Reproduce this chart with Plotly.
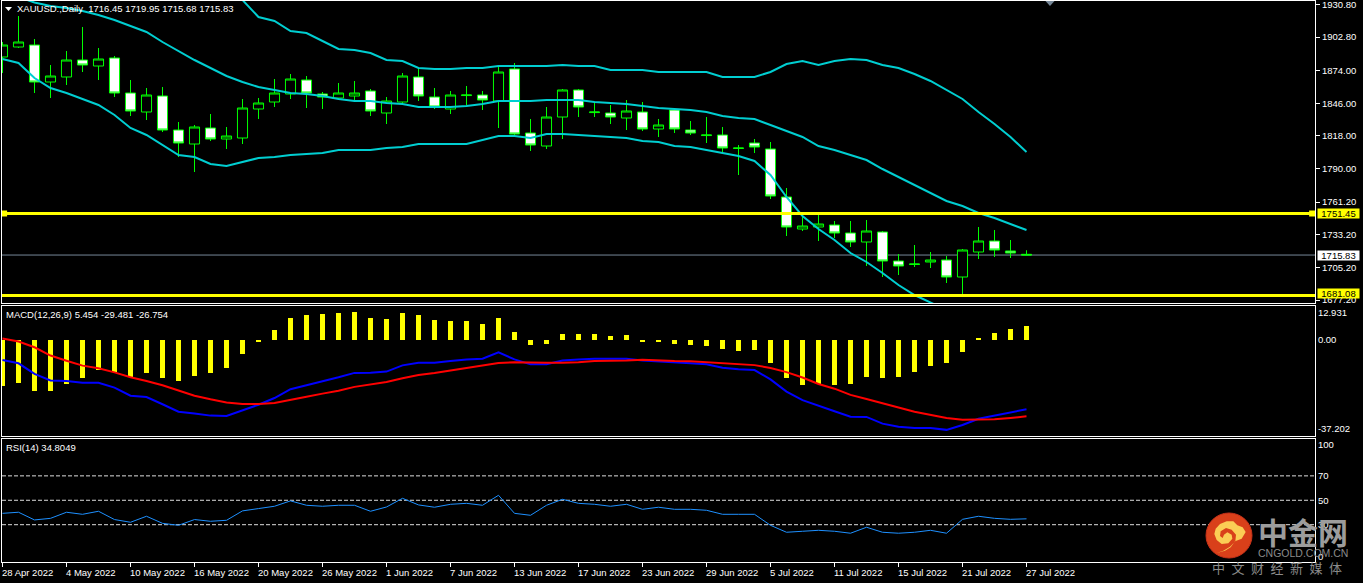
import plotly.graph_objects as go

FIG_W, FIG_H = 1363, 583
FONT = "Liberation Sans"
FS = 9.5

# ---------- data ----------
dates = ["28 Apr 2022","29 Apr 2022","2 May 2022","3 May 2022","4 May 2022","5 May 2022","6 May 2022","9 May 2022",
         "10 May 2022","11 May 2022","12 May 2022","13 May 2022","16 May 2022","17 May 2022","18 May 2022","19 May 2022",
         "20 May 2022","23 May 2022","24 May 2022","25 May 2022","26 May 2022","27 May 2022","30 May 2022","31 May 2022",
         "1 Jun 2022","2 Jun 2022","3 Jun 2022","6 Jun 2022","7 Jun 2022","8 Jun 2022","9 Jun 2022","10 Jun 2022",
         "13 Jun 2022","14 Jun 2022","15 Jun 2022","16 Jun 2022","17 Jun 2022","20 Jun 2022","21 Jun 2022","22 Jun 2022",
         "23 Jun 2022","24 Jun 2022","27 Jun 2022","28 Jun 2022","29 Jun 2022","30 Jun 2022","1 Jul 2022","4 Jul 2022",
         "5 Jul 2022","6 Jul 2022","7 Jul 2022","8 Jul 2022","11 Jul 2022","12 Jul 2022","13 Jul 2022","14 Jul 2022",
         "15 Jul 2022","18 Jul 2022","19 Jul 2022","20 Jul 2022","21 Jul 2022","22 Jul 2022","25 Jul 2022","26 Jul 2022",
         "27 Jul 2022"]

opens = [1885.67,1894.24,1895.96,1864.23,1868.52,1883.09,1877.95,1884.81,1854.79,1838.50,1852.22,1823.06,1811.05,1824.78,1815.34,1816.20,
         1841.07,1847.07,1853.94,1865.94,1853.94,1850.51,1852.22,1856.51,1837.64,1847.07,1868.52,1851.36,1841.07,1852.60,1853.08,1847.93,
         1875.38,1820.49,1809.34,1834.21,1857.37,1838.00,1837.64,1833.35,1838.50,1823.92,1840.21,1823.06,1818.30,1818.77,1807.20,1811.91,
         1806.77,1765.60,1738.16,1739.88,1741.59,1734.73,1727.01,1735.59,1710.72,1707.70,1709.86,1711.57,1696.99,1718.44,1727.87,1719.30,1716.45]
highs = [1898.53,1920.83,1901.10,1878.81,1890.81,1911.39,1893.38,1886.52,1865.94,1859.08,1859.94,1829.92,1827.35,1836.78,1825.63,1849.65,
         1850.51,1866.80,1871.09,1869.37,1855.65,1863.37,1865.08,1858.22,1851.36,1871.95,1876.23,1859.08,1856.51,1860.80,1856.51,1877.09,
         1880.52,1832.50,1842.79,1858.22,1858.22,1847.07,1844.50,1848.79,1847.07,1832.50,1841.93,1830.78,1834.21,1825.63,1810.20,1815.34,
         1812.77,1773.32,1750.17,1750.17,1745.02,1745.02,1745.88,1736.45,1716.71,1724.44,1718.44,1714.97,1721.01,1739.88,1737.31,1728.73,1719.95]
lows = [1871.95,1893.38,1854.79,1850.51,1861.65,1872.80,1865.94,1851.36,1835.07,1831.64,1821.35,1799.90,1787.04,1813.63,1806.77,1811.05,
        1832.50,1842.79,1849.65,1841.93,1841.07,1848.79,1848.79,1835.07,1828.21,1845.36,1847.93,1841.07,1836.78,1844.50,1840.21,1824.78,
        1818.77,1805.05,1806.77,1815.34,1834.21,1834.21,1828.21,1823.06,1822.20,1817.06,1820.49,1818.77,1811.91,1804.19,1784.46,1803.34,
        1763.89,1732.16,1736.45,1727.87,1730.44,1722.72,1706.43,1696.99,1698.71,1705.57,1704.71,1691.85,1681.56,1712.43,1714.15,1713.29,1715.68]
closes = [1895.96,1898.53,1864.23,1869.37,1883.09,1878.81,1883.95,1854.79,1839.36,1853.08,1823.06,1811.91,1825.63,1815.34,1817.92,1841.93,
          1846.22,1854.79,1866.80,1854.79,1851.36,1854.79,1854.79,1839.36,1847.93,1869.37,1852.22,1842.79,1853.08,1853.08,1848.79,1872.80,
          1819.63,1810.20,1834.21,1857.37,1842.79,1838.50,1834.21,1839.36,1823.92,1827.35,1823.92,1820.49,1818.77,1807.62,1807.62,1808.48,
          1766.46,1739.88,1740.73,1742.45,1734.73,1727.01,1736.45,1710.72,1706.43,1708.14,1711.57,1696.99,1720.15,1727.87,1720.15,1717.58,1715.83]

bb_upper = [None]*14 + [1947.41,1934.55,1919.97,1916.56,1907.96,1906.25,1899.39,1892.53,1891.67,1889.10,1883.09,1882.24,1876.23,1875.38,1875.38,1876.23,
            1876.23,1877.95,1877.95,1877.95,1877.95,1878.81,1877.95,1877.95,1874.52,1874.52,1874.52,1872.80,1872.80,1872.80,1872.80,1868.52,
            1868.52,1868.52,1872.80,1879.66,1882.24,1878.81,1882.24,1883.95,1883.09,1878.81,1876.23,1871.09,1865.08,1857.37,1849.65,1838.50,1828.21,1817.06,1804.19]
bb_mid = [None,1937.12,1932.41,1929.40,1927.69,1925.12,1921.69,1917.40,1912.25,1907.11,1898.53,1890.81,1883.09,1876.23,1869.37,1864.23,
          1859.94,1857.37,1854.79,1853.94,1852.22,1849.65,1847.93,1847.93,1846.22,1845.36,1842.79,1842.79,1842.79,1843.64,1845.36,1847.93,
          1847.93,1847.93,1848.79,1848.79,1848.79,1847.07,1846.22,1845.36,1843.64,1841.93,1841.07,1840.21,1838.50,1835.07,1833.35,1832.50,
          1827.35,1822.20,1817.06,1809.34,1805.91,1801.62,1797.33,1789.61,1782.75,1775.89,1769.03,1762.17,1757.88,1751.88,1747.59,1742.45,1737.31]
bb_lower = [1883.95,1880.52,1867.66,1859.08,1854.79,1849.65,1844.50,1835.93,1824.78,1818.77,1810.20,1801.62,1799.90,1793.90,1792.19,1795.62,
            1799.05,1799.90,1801.62,1802.48,1803.34,1805.91,1805.91,1805.91,1807.62,1808.48,1811.05,1811.05,1811.05,1811.05,1814.49,1817.92,
            1817.92,1816.20,1819.63,1819.63,1818.77,1817.92,1817.06,1816.20,1813.63,1812.77,1809.34,1808.48,1805.91,1803.34,1800.76,1796.47,
            1784.46,1765.60,1749.31,1738.16,1728.73,1717.58,1709.86,1700.43,1690.14,1681.56,1675.55,1668.69] + [None]*5

macd_hist = [-17.8,-16.6,-19.7,-19.7,-17.0,-14.7,-11.6,-12.4,-14.3,-12.7,-14.7,-15.8,-13.9,-12.7,-10.8,-5.4,
             -0.8,3.9,8.5,9.7,10.0,10.4,10.8,8.5,8.1,10.4,9.7,7.7,7.3,7.3,6.2,8.5,
             3.1,-1.9,-1.5,2.3,2.3,2.3,1.5,1.9,-0.4,-0.8,-1.5,-1.9,-2.3,-3.5,-4.2,-3.9,
             -8.9,-14.7,-17.4,-17.0,-17.4,-17.0,-14.3,-14.7,-14.3,-12.4,-10.0,-8.9,-4.6,0.4,2.7,4.2,5.454]
macd_main = [-7.7,-9.0,-13.1,-15.6,-15.8,-16.5,-16.5,-18.4,-21.5,-22.0,-24.8,-27.7,-28.4,-29.2,-29.3,-27.3,
             -25.0,-22.4,-19.0,-17.5,-16.0,-14.4,-12.7,-12.6,-12.2,-9.8,-8.8,-8.8,-8.1,-7.5,-7.2,-4.8,
             -7.5,-9.4,-9.4,-7.9,-7.5,-7.2,-7.2,-7.2,-7.9,-8.2,-8.6,-9.0,-9.4,-10.7,-11.3,-11.6,
             -15.2,-19.9,-23.2,-25.5,-27.5,-29.6,-29.7,-32.3,-33.5,-34.0,-34.0,-34.7,-32.8,-30.4,-29.1,-27.9,-26.754]
macd_signal = [0.6,-0.6,-2.8,-6.0,-8.0,-9.9,-10.9,-12.5,-14.4,-15.8,-17.5,-19.6,-21.5,-22.9,-24.1,-24.7,
               -24.7,-24.3,-23.0,-21.9,-20.7,-19.6,-18.1,-17.0,-16.2,-14.8,-13.5,-12.7,-11.8,-10.8,-10.0,-8.9,
               -8.6,-8.8,-8.8,-8.8,-8.6,-8.1,-8.1,-7.9,-7.6,-7.9,-8.1,-8.2,-8.6,-9.0,-9.4,-9.7,
               -10.8,-12.4,-14.5,-17.0,-18.8,-21.2,-22.8,-24.6,-26.1,-27.7,-29.0,-30.1,-30.8,-30.8,-30.6,-30.1,-29.481]
rsi = [39.3,40.2,33.9,35.2,40.2,38.5,41.0,34.2,32.0,36.9,31.1,29.5,34.2,32.8,33.6,41.3,
       43.2,45.1,49.5,45.9,45.1,45.9,45.9,41.0,44.5,51.6,46.2,44.3,46.7,47.5,45.9,54.1,
       39.3,37.7,45.9,50.8,47.5,46.7,45.1,46.7,42.6,44.3,42.6,42.6,41.8,38.5,38.5,38.5,
       29.5,23.8,24.6,25.4,24.6,23.0,27.9,23.8,23.0,23.8,25.4,23.0,34.4,36.9,35.2,34.4,34.8049]

price_ticks = [1930.80,1902.80,1874.00,1846.00,1818.00,1790.00,1761.20,1733.20,1705.20,1677.20]
macd_tick_pos = [10.4,0.0,-34.4]
macd_tick_text = ["12.931","0.00","-37.202"]
rsi_tick_pos = [95.5,70,50,30,3.5]
rsi_tick_text = ["100","70","50","30","0"]
rsi_levels = [70,50,30]
level_high = 1751.45
level_low = 1681.08
last_price = 1715.83
date_tick_idx = list(range(0,65,4))
date_tick_label = [dates[i] for i in date_tick_idx]

xs = list(range(len(dates)))

# ---------- layout geometry helpers ----------
ML, MR, MT, MB = 2, 48, 1, 21
PW, PH = FIG_W-ML-MR, FIG_H-MT-MB
def px(x): return (x-ML)/PW
def py(y): return 1-(y-MT)/PH
x_range = [(ML-2.5)/16, (FIG_W-MR-2.5)/16]
dom = lambda top, bottom: [py(bottom), py(top)]

fig = go.Figure()

fig.add_trace(go.Candlestick(
    x=xs, open=opens, high=highs, low=lows, close=closes,
    xaxis="x", yaxis="y", whiskerwidth=0,
    increasing=dict(line=dict(color="#00ff00", width=1), fillcolor="#000000"),
    decreasing=dict(line=dict(color="#00ff00", width=1), fillcolor="#ffffff"),
    showlegend=False, hoverinfo="skip"))
for band in (bb_upper, bb_mid, bb_lower):
    fig.add_trace(go.Scatter(x=xs, y=band, mode="lines", xaxis="x", yaxis="y",
                             line=dict(color="#00ced1", width=2), showlegend=False, hoverinfo="skip"))
# handles of the selected level
fig.add_trace(go.Scatter(x=[0.1,81.85], y=[level_high, level_high], mode="markers", xaxis="x", yaxis="y",
                         marker=dict(symbol="square", size=6, color="#ffff00"), showlegend=False, hoverinfo="skip"))

fig.add_trace(go.Bar(x=xs, y=macd_hist, width=5/16, xaxis="x2", yaxis="y2",
                     marker=dict(color="#ffff00", line=dict(width=0)), showlegend=False, hoverinfo="skip"))
fig.add_trace(go.Scatter(x=xs, y=macd_main, mode="lines", xaxis="x2", yaxis="y2",
                         line=dict(color="#0000ff", width=2), showlegend=False, hoverinfo="skip"))
fig.add_trace(go.Scatter(x=xs, y=macd_signal, mode="lines", xaxis="x2", yaxis="y2",
                         line=dict(color="#ff0000", width=2), showlegend=False, hoverinfo="skip"))
fig.add_trace(go.Scatter(x=xs, y=rsi, mode="lines", xaxis="x3", yaxis="y3",
                         line=dict(color="#1e90ff", width=1), showlegend=False, hoverinfo="skip"))

shapes = []
shapes.append(dict(type="line", xref="paper", yref="y", x0=0, x1=1, y0=last_price, y1=last_price,
                   line=dict(color="#778899", width=1), layer="below"))
for lv in (level_high, level_low):
    shapes.append(dict(type="line", xref="paper", yref="y", x0=0, x1=1, y0=lv, y1=lv,
                       line=dict(color="#ffff00", width=3), layer="above"))
for lv in rsi_levels:
    shapes.append(dict(type="line", xref="paper", yref="y3", x0=0, x1=1, y0=lv, y1=lv,
                       line=dict(color="#dddddd", width=1, dash="4px,2px"), layer="below"))

# chart-shift marker and logo (page decoration, in pixels)
def path(points):
    return "M " + " L ".join(f"{px(a):.5f},{py(b):.5f}" for a, b in points) + " Z"
shapes.append(dict(type="path", xref="paper", yref="paper",
                   path=path([(1045.5,1),(1054.5,1),(1050,6)]), fillcolor="#778899", line=dict(width=0)))
shapes.append(dict(type="path", xref="paper", yref="paper",
                   path=path([(5,7),(12,7),(8.5,11)]), fillcolor="#ffffff", line=dict(width=0)))
shapes.append(dict(type="circle", xref="paper", yref="paper", x0=px(1206), x1=px(1252), y0=py(558), y1=py(513),
                   fillcolor="#d9401a", line=dict(color="#c8321a", width=1), layer="above"))
swirl = [(50,135),(75,128),(92,118),(105,100),(125,92),(137,72),(128,58),(112,52),(100,40),(80,40),(60,48),(47,62),(43,78),(50,96),
         (65,108),(85,106),(97,92),(95,80),(82,73),(72,80),(68,90),(60,84),(62,70),(78,60),(95,65),(108,80),(106,100),(90,116),(70,128)]
shapes.append(dict(type="path", xref="paper", yref="paper",
                   path=path([(1200+a/3, 508+b/3) for a, b in swirl]),
                   fillcolor="#fbcd55", line=dict(width=0), layer="above"))

annotations = []
def text(t, x, y, color="#ffffff", size=FS, anchor="left", family=FONT, **kw):
    annotations.append(dict(text=t, xref="paper", yref="paper", x=px(x), y=py(y), xanchor=anchor, yanchor="middle",
                            showarrow=False, font=dict(family=family, size=size, color=color), borderpad=0, **kw))

text("XAUUSD.,Daily  1716.45 1719.95 1715.68 1715.83", 16, 8.5)
text("MACD(12,26,9) 5.454 -29.481 -26.754", 5, 314.5)
text("RSI(14) 34.8049", 5, 447.5)
text(f"{price_ticks[0]:.2f}", 1321, 4.5)

for i, lab in zip(date_tick_idx, date_tick_label):
    annotations.append(dict(text=lab, xref="x3", x=i, yref="paper", y=py(572), xanchor="left", yanchor="middle",
                            showarrow=False, borderpad=0, xshift=-1.5,
                            font=dict(family=FONT, size=FS, color="#ffffff")))

for val, bg, dy in ((level_high, "#ffff00", 0), (last_price, "#ffffff", 0), (level_low, "#ffff00", -2)):
    annotations.append(dict(text=f"{val:.2f}", xref="paper", x=px(1317), yref="y", y=val, yshift=-dy,
                            xanchor="left", yanchor="middle", showarrow=False, bgcolor=bg, width=41, height=9,
                            borderpad=0, align="center", font=dict(family=FONT, size=FS, color="#000000")))

text("<b>中金网</b>", 1303, 531, color="#9c9c9c", size=30, anchor="center", family="Noto Sans CJK SC, sans-serif")
text("CNGOLD.COM.CN", 1302.5, 553, color="#8a8a8a", size=10.5, anchor="center")
text("\u2002".join("中文财经新媒体"), 1277, 567, color="#8a8a8a", size=13, anchor="center", family="Noto Sans CJK SC, sans-serif")

common_x = dict(range=x_range, showgrid=False, zeroline=False, showline=True, linecolor="#ffffff", linewidth=1,
                mirror=True, showticklabels=False, ticks="", fixedrange=True)
common_y = dict(side="right", showgrid=False, zeroline=False, showline=True, linecolor="#ffffff", linewidth=1, mirror=True,
                tickfont=dict(family=FONT, size=FS, color="#ffffff"), fixedrange=True)

fig.update_layout(
    width=FIG_W, height=FIG_H, autosize=False,
    margin=dict(l=ML, r=MR, t=MT, b=MB, pad=0),
    paper_bgcolor="#000000", plot_bgcolor="#000000",
    showlegend=False, hovermode=False, bargap=0, boxgap=0.37, boxgroupgap=0,
    shapes=shapes, annotations=annotations,
    xaxis=dict(common_x, anchor="y", rangeslider=dict(visible=False)),
    xaxis2=dict(common_x, anchor="y2"),
    xaxis3=dict(common_x, anchor="y3", ticks="outside", ticklen=4, tickcolor="#ffffff",
                tickmode="array", tickvals=date_tick_idx),
    yaxis=dict(common_y, anchor="x", domain=dom(1,303), range=[1674.70,1933.69],
               tickmode="array", tickvals=price_ticks,
               ticktext=[""] + [f"{v:.2f}" for v in price_ticks[1:]],
               ticks="outside", ticklen=4, tickcolor="#ffffff"),
    yaxis2=dict(common_y, anchor="x2", domain=dom(306,436), range=[-37.07,13.13],
                tickmode="array", tickvals=macd_tick_pos, ticktext=macd_tick_text, ticks=""),
    yaxis3=dict(common_y, anchor="x3", domain=dom(439,561.5), range=[-0.16,100.2],
                tickmode="array", tickvals=rsi_tick_pos, ticktext=rsi_tick_text, ticks=""),
)

fig.write_html("out.html", config={"displayModeBar": False},
               post_script="document.body.style.margin='0';document.body.style.background='#ffffff';")
